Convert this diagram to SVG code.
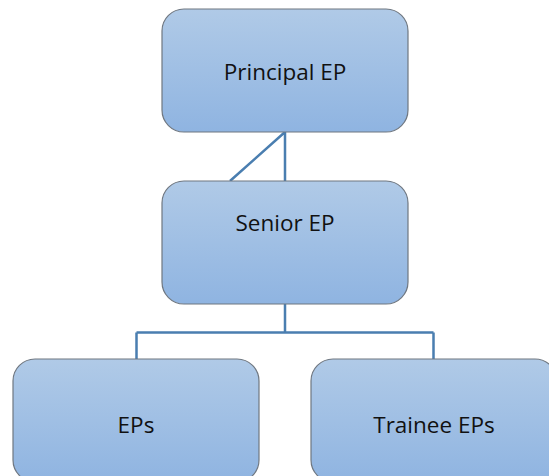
<svg xmlns="http://www.w3.org/2000/svg" width="549" height="476" viewBox="0 0 549 476">
<style>
.box{fill:url(#g);stroke:#6f7780;stroke-width:1.2}
.lbl{font-family:"Open Sans","Liberation Sans",sans-serif;font-size:22.5px;fill:#111;text-anchor:middle}
.con{stroke:#4a7eb0;stroke-width:2.5;fill:none}
</style>
<defs>
<linearGradient id="g" x1="0" y1="0" x2="0" y2="1">
<stop offset="0" stop-color="#b0cae7"/>
<stop offset="1" stop-color="#8fb4e1"/>
</linearGradient>
</defs>
<rect width="549" height="476" fill="#fff"/>
<g id="connectors">
<path class="con" d="M285,132 V181 M285,132 L230,181"/>
<path class="con" d="M285,304 V332.5 M136.5,332.5 H433.5 M136.5,332.5 V359 M433.5,332.5 V359"/>
</g>
<g id="principal">
<rect class="box" x="162" y="9" width="246" height="123" rx="22"/>
<text class="lbl" x="285" y="80">Principal EP</text>
</g>
<g id="senior">
<rect class="box" x="162" y="181" width="246" height="123" rx="22"/>
<text class="lbl" x="285" y="231">Senior EP</text>
</g>
<g id="eps">
<rect class="box" x="13" y="359" width="246" height="123" rx="22"/>
<text class="lbl" x="136" y="433">EPs</text>
</g>
<g id="trainee">
<rect class="box" x="311" y="359" width="246" height="123" rx="22"/>
<text class="lbl" x="434" y="433">Trainee EPs</text>
</g>
</svg>
